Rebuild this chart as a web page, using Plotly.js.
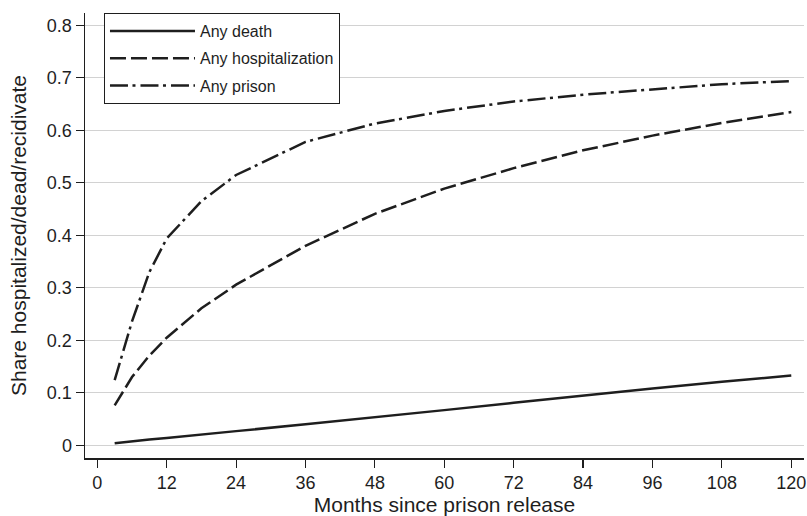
<!DOCTYPE html>
<html>
<head>
<meta charset="utf-8">
<script src="https://cdn.plot.ly/plotly-3.0.1.min.js"></script>
<style>html,body{margin:0;padding:0;background:#fff;}#chart{width:807px;height:516px;}</style>
</head>
<body>
<div id="chart"></div>
<script>
var months = [3, 6, 9, 12, 18, 24, 36, 48, 60, 72, 84, 96, 108, 120];
var anyDeath = [0.004, 0.008, 0.011, 0.014, 0.020, 0.027, 0.040, 0.053, 0.067, 0.081, 0.095, 0.108, 0.121, 0.133];
var anyHospitalization = [0.076, 0.130, 0.171, 0.205, 0.261, 0.306, 0.380, 0.441, 0.489, 0.528, 0.562, 0.590, 0.614, 0.635];
var anyPrison = [0.124, 0.236, 0.330, 0.394, 0.465, 0.515, 0.578, 0.613, 0.637, 0.655, 0.668, 0.678, 0.688, 0.694];
var seriesNames = ["Any death", "Any hospitalization", "Any prison"];
var xTicks = [0, 12, 24, 36, 48, 60, 72, 84, 96, 108, 120];
var yTicks = [0, 0.1, 0.2, 0.3, 0.4, 0.5, 0.6, 0.7, 0.8];

var font = "Liberation Sans, Arial, Helvetica, sans-serif";
var ink = "#1e1e1e";
var traces = [
  {x: months, y: anyDeath, name: seriesNames[0], legendgroup: "a", mode: "lines",
   line: {color: ink, width: 2.5, dash: "solid"}},
  {x: months, y: anyHospitalization, name: seriesNames[1], legendgroup: "b", mode: "lines",
   line: {color: ink, width: 2.5, dash: "16px,5px"}},
  {x: months, y: anyPrison, name: seriesNames[2], legendgroup: "c", mode: "lines",
   line: {color: ink, width: 2.5, dash: "18px,4.5px,3px,5px"}}
];
var layout = {
  width: 807, height: 516,
  margin: {l: 85, r: 3, t: 13, b: 58},
  paper_bgcolor: "#fff", plot_bgcolor: "#fff",
  font: {family: font, color: ink, size: 18},
  showlegend: true,
  legend: {x: 0.0264, y: 1.0, xanchor: "left", yanchor: "top",
    bordercolor: ink, borderwidth: 1, bgcolor: "#fff",
    font: {family: font, size: 16, color: ink},
    itemwidth: 85, tracegroupgap: 3.5, traceorder: "grouped"},
  xaxis: {range: [-2.13, 122.2], tickvals: xTicks, ticktext: xTicks.map(String),
    showgrid: false, zeroline: false, showline: true, linecolor: ink, linewidth: 1.5,
    ticks: "outside", ticklen: 8, tickwidth: 1.2, tickcolor: ink,
    tickfont: {family: font, size: 18, color: ink},
    title: {text: "Months since prison release", font: {family: font, size: 21, color: ink}, standoff: 9}},
  yaxis: {range: [-0.0242, 0.8236], tickvals: yTicks, ticktext: yTicks.map(function(v){return v === 0 ? "0" : v.toFixed(1);}),
    showgrid: true, gridcolor: "#d2d2d2", gridwidth: 1, zeroline: false,
    showline: true, linecolor: ink, linewidth: 1.5,
    ticks: "outside", ticklen: 8, tickwidth: 1.2, tickcolor: ink,
    tickfont: {family: font, size: 18, color: ink},
    title: {text: "Share hospitalized/dead/recidivate", font: {family: font, size: 21, color: ink}, standoff: 14}}
};
Plotly.newPlot("chart", traces, layout, {staticPlot: true, displayModeBar: false});
</script>
</body>
</html>
